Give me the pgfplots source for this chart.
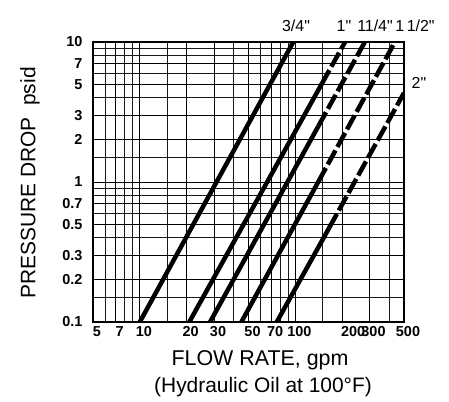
\documentclass[border=0pt]{standalone}
\usepackage{fontspec}
\setmainfont{Liberation Sans}[Ligatures=TeXOff]
\usepackage{pgfplots}
\pgfplotsset{compat=1.18}
\begin{document}
\begin{tikzpicture}
\begin{axis}[
  at={(0,0)}, anchor=south west,
  scale only axis, width=311bp, height=280bp,
  xmode=log, ymode=log,
  xmin=5, xmax=500, ymin=0.1, ymax=10,
  xtick={5,7,10,20,30,50,70,100,200,300,500},
  xticklabels={5,7,10,20,30,50,70,100,\hspace{14bp}200,300,500},
  minor xtick={6,8,9,15,40,60,80,90,150,400},
  ytick={0.1,0.2,0.3,0.5,0.7,1,2,3,5,7,10},
  yticklabels={0.1,0.2,0.3,0.5,0.7,1,2,3,5,7,10},
  minor ytick={0.15,0.4,0.6,0.8,0.9,1.5,4,6,8,9},
  grid=both,
  major grid style={black, line width=0.8bp},
  minor grid style={black!90, line width=0.7bp},
  major tick length=0pt, minor tick length=0pt,
  axis line style={black, line width=1.2bp},
  tick label style={font=\bfseries\fontsize{14.5}{14.5}\selectfont},
  xticklabel style={xshift=4bp, yshift=-1bp},
  yticklabel style={xshift=-7bp},
]
\addplot[black, line width=4.5bp] coordinates {(10,0.1) (97,10)};
% 1"
\addplot[black, line width=4.5bp] coordinates {(20.8,0.1) (147.6,5)};
\addplot[black, line width=4.5bp, dash pattern=on 16bp off 4bp] coordinates {(147.6,5) (209,10)};
% 1 1/4"
\addplot[black, line width=4.5bp] coordinates {(28.3,0.1) (140.5,2.5)};
\addplot[black, line width=4.5bp, dash pattern=on 16bp off 4bp] coordinates {(140.5,2.5) (280,10)};
% 1 1/2"
\addplot[black, line width=4.5bp] coordinates {(45,0.1) (140.3,1)};
\addplot[black, line width=4.5bp, dash pattern=on 16bp off 4bp] coordinates {(140.3,1) (437,10)};
% 2"
\addplot[black, line width=4.5bp] coordinates {(76,0.1) (165,0.47)};
\addplot[black, line width=4.5bp, dash pattern=on 16bp off 4bp] coordinates {(165,0.47) (500,4.33)};
\end{axis}
\begin{scope}[font=\fontsize{16}{16}\selectfont]
\node at (203bp,296bp) {3/4"};
\node at (251bp,296bp) {1"};
\node at (282bp,296bp) {11/4"};
\node at (322bp,296bp) {1\,1/2"};
\node at (326bp,239bp) {2"};
\end{scope}
\node[font=\fontsize{21.5}{21.5}\selectfont] at (167bp,-38bp) {FLOW RATE, gpm};
\node[font=\fontsize{21}{21}\selectfont] at (170bp,-65bp) {(Hydraulic Oil at 100°F)};
\node[font=\fontsize{21}{21}\selectfont, rotate=90] at (-63bp,139bp) {PRESSURE DROP\ \ psid};
\pgfresetboundingbox
\path[use as bounding box] (-93bp,-80bp) rectangle (356bp,322bp);
\end{tikzpicture}
\end{document}
